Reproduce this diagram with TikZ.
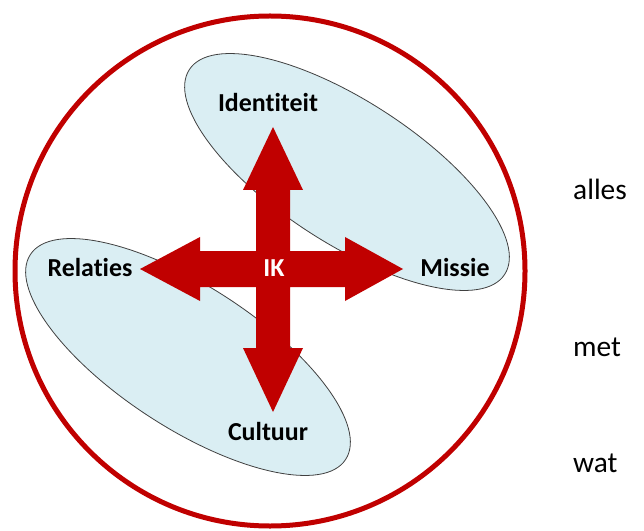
\documentclass[tikz,border=0pt]{standalone}
\usepackage{fontspec}
\setmainfont[Ligatures=CommonOff]{Carlito}
\usetikzlibrary{shapes.geometric}
\definecolor{ikred}{HTML}{C00000}
\definecolor{ikblue}{HTML}{DAEEF3}
\definecolor{ikgray}{HTML}{404040}
\tikzset{
  blob/.style={ellipse, draw=ikgray, line width=0.8bp, fill=ikblue, minimum width=376bp, minimum height=142bp, inner sep=0pt, rotate=-33},
  lbl/.style={font=\bfseries\fontsize{26}{30}\selectfont, anchor=base, inner sep=0pt},
  side/.style={font=\fontsize{29.5}{34}\selectfont, anchor=base west, inner sep=0pt}
}
\begin{document}
\begin{tikzpicture}[x=1bp,y=-1bp]
\useasboundingbox (0,0) rectangle (644,531);
\node[blob] (top) at (347,172) {};
\node[blob] (bot) at (188,357) {};
\draw[ikred, line width=5bp] (270,271) circle [radius=255];
\fill[ikred] (273,127) -- (303,190) -- (290,190) -- (290,251) -- (345,251) -- (345,237) -- (403,269) -- (345,301) -- (345,287) -- (290,287) -- (290,348) -- (303,348) -- (273,412) -- (243,348) -- (256,348) -- (256,287) -- (200,287) -- (200,301) -- (140,269) -- (200,237) -- (200,251) -- (256,251) -- (256,190) -- (243,190) -- cycle;
\node[lbl] (id) at (268,112) {Identiteit};
\node[lbl] (rel) at (90,276) {Relaties};
\node[lbl] (mis) at (455,276) {Missie};
\node[lbl] (cul) at (268,440) {Cultuur};
\node[lbl, text=white] (ik) at (274,276) {IK};
\node[side] (alles) at (573,200) {alles};
\node[side] (met) at (573,356) {met};
\node[side] (wat) at (573,472) {wat};
\end{tikzpicture}
\end{document}
